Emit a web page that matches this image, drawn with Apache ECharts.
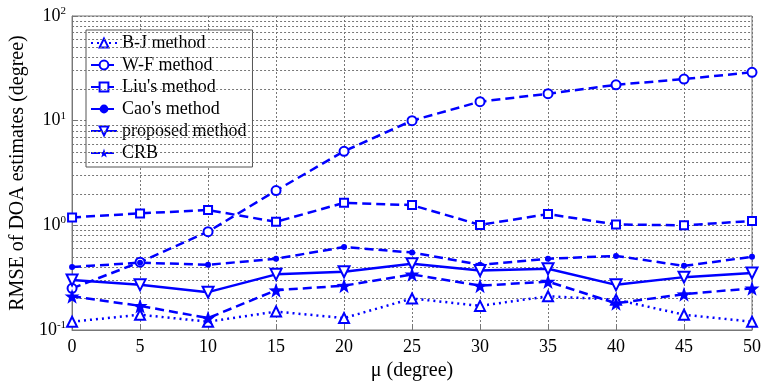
<!DOCTYPE html>
<html><head><meta charset="utf-8">
<script src="https://cdn.jsdelivr.net/npm/echarts@6/dist/echarts.min.js"></script>
<style>html,body{margin:0;padding:0;background:#fff}#c{width:764px;height:386px}</style>
</head><body><div id="c"></div>
<script>
var mu = [0,5,10,15,20,25,30,35,40,45,50];
var bj = [0.12,0.14,0.12,0.15,0.13,0.20,0.17,0.21,0.195,0.14,0.12];
var wf = [0.25,0.445,0.87,2.15,5.1,10.0,15.2,18.1,22,25,29];
var liu = [1.19,1.30,1.40,1.08,1.64,1.56,1.01,1.28,1.02,1.0,1.1];
var cao = [0.40,0.44,0.42,0.48,0.62,0.55,0.42,0.48,0.51,0.41,0.50];
var proposed = [0.30,0.27,0.23,0.34,0.36,0.43,0.37,0.385,0.27,0.32,0.35];
var crb = [0.21,0.17,0.13,0.24,0.265,0.34,0.265,0.29,0.18,0.22,0.25];
var names = ['B-J method','W-F method',"Liu's method","Cao's method",'proposed method','CRB'];
var minorVals = [];
[0.1,1,10].forEach(function(d){for(var k=2;k<=9;k++){minorVals.push(+(d*k).toPrecision(3));}});

function pairs(v){return mu.map(function(x,i){return [x,v[i]];});}
var blue = '#0000ff';
var star = 'path://M0,-10 L2.35,-3.24 L9.51,-3.09 L3.8,1.24 L5.88,8.09 L0,4 L-5.88,8.09 L-3.8,1.24 L-9.51,-3.09 L-2.35,-3.24 Z';
function mk(name, data, symbol, size, ltype, hollow, rot){
  return {name:name,type:'line',data:pairs(data),symbol:symbol,symbolSize:size,symbolRotate:rot||0,
    lineStyle:{color:blue,width:2.5,type:ltype},
    itemStyle:{color:hollow?'#fff':blue,borderColor:blue,borderWidth:hollow?2:0},
    z:5};
}
var series = [
  mk(names[0],bj,'triangle',10,[2,4],true),
  mk(names[1],wf,'circle',9,[9,5],true),
  mk(names[2],liu,'rect',8,[9,5],true),
  mk(names[3],cao,'circle',6,[9,5],false),
  mk(names[4],proposed,'triangle',11,'solid',true,180),
  mk(names[5],crb,star,15,[9,5],false),
  {name:'grid',type:'line',data:[],silent:true,z:1,
   markLine:{silent:true,symbol:'none',label:{show:false},animation:false,
     lineStyle:{color:'#777',type:[2,2],width:1},
     data:minorVals.map(function(v){return {yAxis:v};})}}
];
var chart = echarts.init(document.getElementById('c'));
chart.setOption({
  animation:false,
  backgroundColor:'#fff',
  textStyle:{fontFamily:'Liberation Serif'},
  grid:{left:70,right:9,top:16,bottom:51,show:true,borderColor:'#777',borderWidth:1,backgroundColor:'transparent'},
  legend:{data:names,orient:'vertical',left:86,top:30,itemWidth:26,itemHeight:11,itemGap:4,
    padding:[4,6,5,4],backgroundColor:'#fff',borderColor:'#555',borderWidth:1,
    textStyle:{fontFamily:'Liberation Serif',fontSize:18,color:'#000'}},
  xAxis:{type:'value',min:0,max:50,interval:5,
    name:'\u03bc (degree)',nameLocation:'middle',nameGap:31,
    nameTextStyle:{fontFamily:'Liberation Serif',fontSize:20,color:'#000'},
    axisLine:{lineStyle:{color:'#777'}},axisTick:{inside:true,length:5,lineStyle:{color:'#777'}},
    axisLabel:{fontFamily:'Liberation Serif',fontSize:18,color:'#000',margin:8},
    splitLine:{show:true,lineStyle:{color:'#777',type:[2,2]}}},
  yAxis:{type:'log',logBase:10,min:0.1,max:100,
    name:'RMSE of DOA estimates (degree)',nameLocation:'middle',nameGap:44,
    nameTextStyle:{fontFamily:'Liberation Serif',fontSize:20,color:'#000'},
    axisLine:{lineStyle:{color:'#777'}},axisTick:{inside:true,length:5,lineStyle:{color:'#777'}},
    axisLabel:{color:'#000',margin:6,formatter:function(v){
        var e=Math.round(Math.log10(v));return '{b|10}{s|'+e+'}';},
      rich:{b:{fontFamily:'Liberation Serif',fontSize:18,color:'#000'},
            s:{fontFamily:'Liberation Serif',fontSize:11,color:'#000',verticalAlign:'top',padding:[0,0,10,0]}}},
    splitLine:{show:true,lineStyle:{color:'#777',type:[2,2]}}},
  series:series
});
</script></body></html>
